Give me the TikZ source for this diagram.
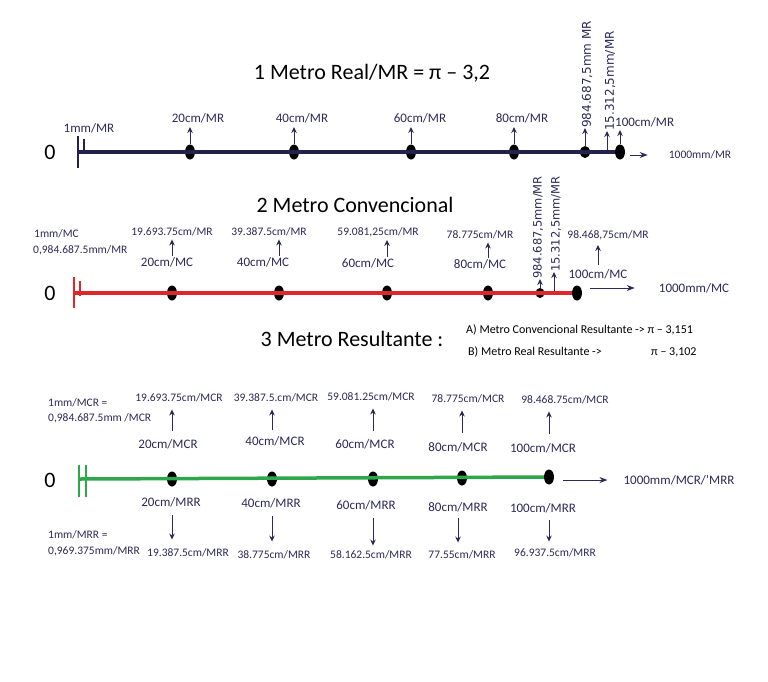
\documentclass[tikz,border=0pt]{standalone}
\usepackage{fontspec}
\setmainfont{Carlito}
\newfontfamily\vfont{DejaVu Sans}
\usetikzlibrary{arrows.meta,shapes.geometric}
\definecolor{ink}{HTML}{2B2958}
\definecolor{navyline}{HTML}{24214E}
\definecolor{redline}{HTML}{E0262B}
\definecolor{greenline}{HTML}{2EA64B}
\tikzset{
  mdot/.style={ellipse,fill=black,minimum width=10pt,minimum height=15pt,inner sep=0pt},
  lab/.style={text=ink,font=\fontsize{13}{15}\selectfont,inner sep=1pt},
  slab/.style={text=ink,font=\fontsize{11.5}{13}\selectfont,inner sep=1pt},
  vlab/.style={text=ink,font=\vfont\fontsize{11.5}{13}\selectfont,rotate=90,anchor=west,inner sep=0pt},
  ttl/.style={font=\fontsize{22}{26}\selectfont},
  zlab/.style={font=\fontsize{22}{26}\selectfont},
  ua/.style={-{Stealth[length=6pt,width=5.5pt]},line width=1pt,ink},
  ra/.style={-{Stealth[length=8pt,width=6pt]},line width=1pt,ink}
}

\begin{document}
\begin{tikzpicture}[x=1pt,y=-1pt]
\useasboundingbox (0,0) rectangle (768,681);
% metro real
\node[ttl] (t1) at (372,73) {1 Metro Real/MR = π – 3,2};
\node[zlab] (z1) at (50,152) {0};
\coordinate (s1) at (78,152);
\node[mdot] (d11) at (190,152) {};
\node[mdot] (d12) at (294,152) {};
\node[mdot] (d13) at (411,152) {};
\node[mdot] (d14) at (514,152) {};
\node[mdot,minimum height=12pt] (d15) at (585,152) {};
\node[mdot] (d16) at (620,152) {};
\draw[navyline,line width=3.5pt] (s1) -- (d16);
\draw[navyline,line width=2.5pt] (78,136) -- (78,168);
\draw[navyline,line width=1.5pt] (84,139) -- (84,152);
\node[lab] (a0) at (89,128) {1mm/MR};
\node[lab] (a1) at (198,118) {20cm/MR};
\node[lab] (a2) at (302,118) {40cm/MR};
\node[lab] (a3) at (420,118) {60cm/MR};
\node[lab] (a4) at (522,118) {80cm/MR};
\node[lab,anchor=west] (a5) at (614,122) {100cm/MR};
\draw[ua,shorten >=3pt] (d11.north) -- (d11.north |- a1.south);
\draw[ua,shorten >=3pt] (d12.north) -- (d12.north |- a2.south);
\draw[ua,shorten >=3pt] (d13.north) -- (d13.north |- a3.south);
\draw[ua,shorten >=3pt] (d14.north) -- (d14.north |- a4.south);
\draw[ua,shorten >=2pt] (d16.north) -- (d16.north |- a5.south);
\node[vlab,font=\vfont\fontsize{12}{14}\selectfont] (v1) at (587,128) {984.687,5mm MR};
\coordinate (q1) at (607,150);
\node[vlab,font=\vfont\fontsize{12}{14}\selectfont] (v2) at (610,131) {15.312,5mm/MR};
\draw[ua] (d15.north) -- (d15.north |- v1.west);
\draw[ua] (q1) -- (q1 |- v2.west);
\node[slab] (w1) at (700,155) {1000mm/MR};
\draw[ra,shorten <=5pt,shorten >=20pt] (d16.east |- w1.west) -- (w1.west);
% metro convencional
\node[ttl] (t2) at (355,205) {2 Metro Convencional};
\node[zlab] (z2) at (50,293) {0};
\coordinate (s2) at (74,293);
\node[mdot] (d21) at (172,293) {};
\node[mdot] (d22) at (279,293) {};
\node[mdot] (d23) at (387,293) {};
\node[mdot] (d24) at (488,293) {};
\node[mdot,minimum width=9pt,minimum height=10pt] (d25) at (540,293) {};
\node[mdot] (d26) at (577,293) {};
\draw[redline,line width=3.5pt] (s2) -- (d26);
\draw[redline,line width=2.5pt] (74,277) -- (74,308);
\draw[redline,line width=1.5pt] (80,281) -- (80,296);
\node[slab,anchor=west] (n0a) at (33,234) {1mm/MC};
\node[slab,anchor=west] (n0b) at (32,250) {0,984.687.5mm/MR};
\node[slab] (n1) at (172,232) {19.693.75cm/MR};
\node[slab] (n2) at (269,232) {39.387.5cm/MR};
\node[slab] (n3) at (378,232) {59.081,25cm/MR};
\node[slab] (n4) at (480,235) {78.775cm/MR};
\node[slab] (n5) at (608,235) {98.468,75cm/MR};
\node[lab] (k1) at (167,262) {20cm/MC};
\node[lab] (k2) at (263,262) {40cm/MC};
\node[lab] (k3) at (368,263) {60cm/MC};
\node[lab] (k4) at (480,264) {80cm/MC};
\node[lab] (k5) at (598,274) {100cm/MC};
\draw[ua,shorten >=2pt] (d21 |- k1.north) -- (d21 |- n1.south);
\draw[ua,shorten >=2pt] (d22 |- k2.north) -- (d22 |- n2.south);
\draw[ua,shorten >=2pt] (d23 |- k3.north) -- (d23 |- n3.south);
\draw[ua,shorten >=2pt] (d24 |- k4.north) -- (d24 |- n4.south);
\draw[ua,shorten <=3pt,shorten >=4pt] (k5.north) -- (k5.north |- n5.south);
\node[vlab] (v3) at (538,279) {984.687,5mm/MR};
\coordinate (q2) at (554,291);
\node[vlab] (v4) at (556,272) {15.312,5mm/MR};
\draw[ua] (d25.north) -- (d25.north |- v3.west);
\draw[ua] (q2) -- (q2 |- v4.west);
\node[lab] (w2) at (694,288) {1000mm/MC};
\draw[ra,shorten <=8pt,shorten >=23pt] (d26.east |- w2.west) -- (w2.west);
% metro resultante
\node[ttl] (t3) at (352,339) {3 Metro Resultante :};
\node[slab,font=\fontsize{12}{14}\selectfont,text=black,anchor=west] (ra) at (465,330) {A) Metro Convencional Resultante -> π – 3,151};
\node[slab,font=\fontsize{12}{14}\selectfont,text=black,anchor=west] (rb) at (467,352) {B) Metro Real Resultante ->};
\node[slab,font=\fontsize{12}{14}\selectfont,text=black,anchor=west] (rc) at (650,352) {π – 3,102};
\node[zlab] (z3) at (50,480) {0};
\coordinate (s3) at (79,479);
\node[mdot] (d31) at (172,479) {};
\node[mdot] (d32) at (272,479) {};
\node[mdot] (d33) at (373,479) {};
\node[mdot] (d34) at (462,478) {};
\node[mdot] (d35) at (549,477) {};
\draw[greenline,line width=3.5pt] (s3) -- (d35);
\draw[greenline,line width=2.5pt] (79,465) -- (79,497);
\draw[greenline,line width=2.5pt] (86,465) -- (86,497);
\node[slab,anchor=west] (u0a) at (47,403) {1mm/MCR =};
\node[slab,anchor=west] (u0b) at (47,418) {0,984.687.5mm /MCR};
\node[slab] (u1) at (179,398) {19.693.75cm/MCR};
\node[slab] (u2) at (276,398) {39.387.5.cm/MCR};
\node[slab] (u3) at (371,397) {59.081.25cm/MCR};
\node[slab] (u4) at (468,399) {78.775cm/MCR};
\node[slab] (u5) at (565,400) {98.468.75cm/MCR};
\node[lab] (c1) at (168,444) {20cm/MCR};
\node[lab] (c2) at (275,441) {40cm/MCR};
\node[lab] (c3) at (365,444) {60cm/MCR};
\node[lab] (c4) at (458,447) {80cm/MCR};
\node[lab] (c5) at (543,448) {100cm/MCR};
\draw[ua,shorten <=7pt,shorten >=6pt] (d31 |- c1.north) -- (d31 |- u1.south);
\draw[ua,shorten <=5pt,shorten >=6pt] (d32 |- c2.north) -- (d32 |- u2.south);
\draw[ua,shorten <=7pt,shorten >=6pt] (d33 |- c3.north) -- (d33 |- u3.south);
\draw[ua,shorten <=8pt,shorten >=6pt] (d34 |- c4.north) -- (d34 |- u4.south);
\draw[ua,shorten <=8pt,shorten >=6pt] (d35 |- c5.north) -- (d35 |- u5.south);
\node[lab] (h1) at (171,502) {20cm/MRR};
\node[lab] (h2) at (271,503) {40cm/MRR};
\node[lab] (h3) at (366,505) {60cm/MRR};
\node[lab] (h4) at (458,507) {80cm/MRR};
\node[lab] (h5) at (543,508) {100cm/MRR};
\node[slab,anchor=west] (g0a) at (47,535) {1mm/MRR =};
\node[slab,anchor=west] (g0b) at (47,551) {0,969.375mm/MRR};
\node[slab] (g1) at (188,553) {19.387.5cm/MRR};
\node[slab] (g2) at (274,555) {38.775cm/MRR};
\node[slab] (g3) at (371,555) {58.162.5cm/MRR};
\node[slab] (g4) at (462,555) {77.55cm/MRR};
\node[slab] (g5) at (555,553) {96.937.5cm/MRR};
\draw[ua,shorten <=7pt,shorten >=8pt] (d31 |- h1.south) -- (d31 |- g1.north);
\draw[ua,shorten <=7pt,shorten >=8pt] (d32 |- h2.south) -- (d32 |- g2.north);
\draw[ua,shorten <=7pt,shorten >=4pt] (d33 |- h3.south) -- (d33 |- g3.north);
\draw[ua,shorten <=5pt,shorten >=7pt] (h4.south) -- (h4.south |- g4.north);
\draw[ua,shorten <=6pt,shorten >=6pt] (d35 |- h5.south) -- (d35 |- g5.north);
\node[lab] (w3) at (679,480) {1000mm/MCR/'MRR};
\draw[ra,shorten <=9pt,shorten >=15pt] (d35.east |- w3.west) -- (w3.west);
\end{tikzpicture}
\end{document}
